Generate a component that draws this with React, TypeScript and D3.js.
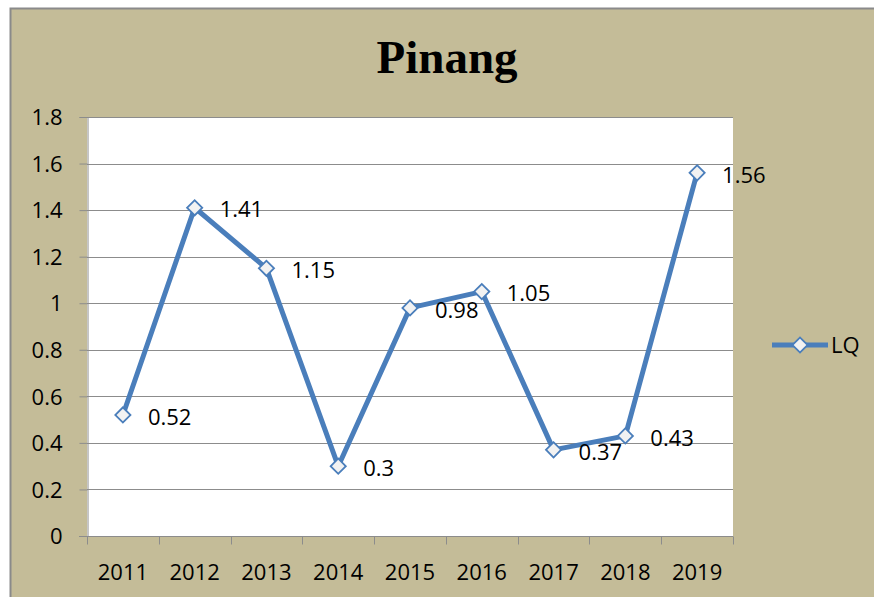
import React, { useRef, useEffect } from "react";
import * as d3 from "d3";

const years = ["2011", "2012", "2013", "2014", "2015", "2016", "2017", "2018", "2019"];
const lqValues = [0.52, 1.41, 1.15, 0.3, 0.98, 1.05, 0.37, 0.43, 1.56];
const yTicks = [0, 0.2, 0.4, 0.6, 0.8, 1, 1.2, 1.4, 1.6, 1.8];
const seriesName = "LQ";

const W = 874;
const H = 597;
const BLUE = "#4a7ebb";
const FONT = "'Open Sans', 'Liberation Sans', sans-serif";

export default function App() {
  const ref = useRef<SVGSVGElement>(null);

  useEffect(() => {
    if (!ref.current) return;
    const svg = d3.select(ref.current);
    svg.selectAll("*").remove();

    const left = 87, right = 733, top = 117, bottom = 536;

    // background frame
    svg.append("rect").attr("width", W).attr("height", H).attr("fill", "#fff");
    svg.append("rect")
      .attr("x", 10.5).attr("y", 8.5)
      .attr("width", W + 10).attr("height", H + 10)
      .attr("fill", "#c4bc98").attr("stroke", "#8a8a8a").attr("stroke-width", 2);

    // title
    svg.append("text")
      .attr("x", 447).attr("y", 73)
      .attr("text-anchor", "middle")
      .attr("font-family", "'Liberation Serif', 'Times New Roman', serif")
      .attr("font-weight", "bold")
      .attr("font-size", 47)
      .attr("fill", "#000")
      .text("Pinang");

    const x = d3.scaleBand().domain(years).range([left, right]);
    const y = d3.scaleLinear().domain([0, 1.8]).range([bottom, top]);

    svg.append("rect")
      .attr("x", left).attr("y", top)
      .attr("width", right - left).attr("height", bottom - top)
      .attr("fill", "#fff");

    // gridlines
    svg.append("g")
      .selectAll("line")
      .data(yTicks.filter((t) => t > 0))
      .join("line")
      .attr("x1", left).attr("x2", right)
      .attr("y1", (d) => Math.round(y(d)) + 0.5)
      .attr("y2", (d) => Math.round(y(d)) + 0.5)
      .attr("stroke", "#8c8c8c").attr("stroke-width", 1);

    // y axis
    const yAxis = svg.append("g")
      .attr("transform", `translate(${left + 0.5},0)`)
      .call(d3.axisLeft(y).tickValues(yTicks).tickSize(8).tickPadding(17).tickFormat((d) => String(+d)));
    yAxis.select(".domain").attr("stroke", "#8c8c8c");
    yAxis.selectAll(".tick line").attr("stroke", "#8c8c8c");
    yAxis.selectAll("text")
      .attr("font-family", FONT).attr("font-size", 22).attr("fill", "#000")
      .attr("dy", "0.35em");

    // x axis
    const xAxis = svg.append("g")
      .attr("transform", `translate(0,${bottom + 0.5})`);
    xAxis.append("line")
      .attr("x1", left - 8).attr("x2", right)
      .attr("stroke", "#8c8c8c");
    const edges = years.map((yr) => x(yr) as number).concat([right]);
    xAxis.selectAll("line.tk")
      .data(edges)
      .join("line")
      .attr("class", "tk")
      .attr("x1", (d) => Math.round(d) + 0.5).attr("x2", (d) => Math.round(d) + 0.5)
      .attr("y1", 0).attr("y2", 8)
      .attr("stroke", "#8c8c8c");
    xAxis.selectAll("text")
      .data(years)
      .join("text")
      .attr("x", (d) => (x(d) as number) + x.bandwidth() / 2)
      .attr("y", 43)
      .attr("text-anchor", "middle")
      .attr("font-family", FONT).attr("font-size", 22).attr("fill", "#000")
      .text((d) => d);

    const cx = (i: number) => (x(years[i]) as number) + x.bandwidth() / 2;
    const line = d3.line<number>().x((_d, i) => cx(i)).y((d) => y(d));
    svg.append("path")
      .datum(lqValues)
      .attr("d", line)
      .attr("fill", "none")
      .attr("stroke", BLUE)
      .attr("stroke-width", 5)
      .attr("stroke-linejoin", "round");

    const diamond = d3.symbol().type(d3.symbolSquare).size(115);
    svg.append("g")
      .selectAll("path")
      .data(lqValues)
      .join("path")
      .attr("d", diamond)
      .attr("transform", (d, i) => `translate(${cx(i)},${y(d)}) rotate(45)`)
      .attr("fill", "#f2f2f2")
      .attr("stroke", BLUE)
      .attr("stroke-width", 1.8);

    svg.append("g")
      .selectAll("text")
      .data(lqValues)
      .join("text")
      .attr("x", (_d, i) => cx(i) + 25)
      .attr("y", (d) => y(d) + 2)
      .attr("dy", "0.35em")
      .attr("font-family", FONT).attr("font-size", 22).attr("fill", "#000")
      .text((d) => String(d));

    // legend
    const lg = svg.append("g").attr("transform", "translate(772,345)");
    lg.append("line").attr("x1", 0).attr("x2", 56).attr("stroke", BLUE).attr("stroke-width", 5);
    lg.append("path")
      .attr("d", diamond)
      .attr("transform", "translate(28,0) rotate(45)")
      .attr("fill", "#f2f2f2").attr("stroke", BLUE).attr("stroke-width", 1.8);
    lg.append("text")
      .attr("x", 59).attr("y", 0).attr("dy", "0.35em")
      .attr("font-family", FONT).attr("font-size", 22).attr("fill", "#000")
      .text(seriesName);
  }, []);

  return (
    <svg
      ref={ref}
      width={W}
      height={H}
      style={{ position: "absolute", left: 0, top: 0, display: "block" }}
    />
  );
}
